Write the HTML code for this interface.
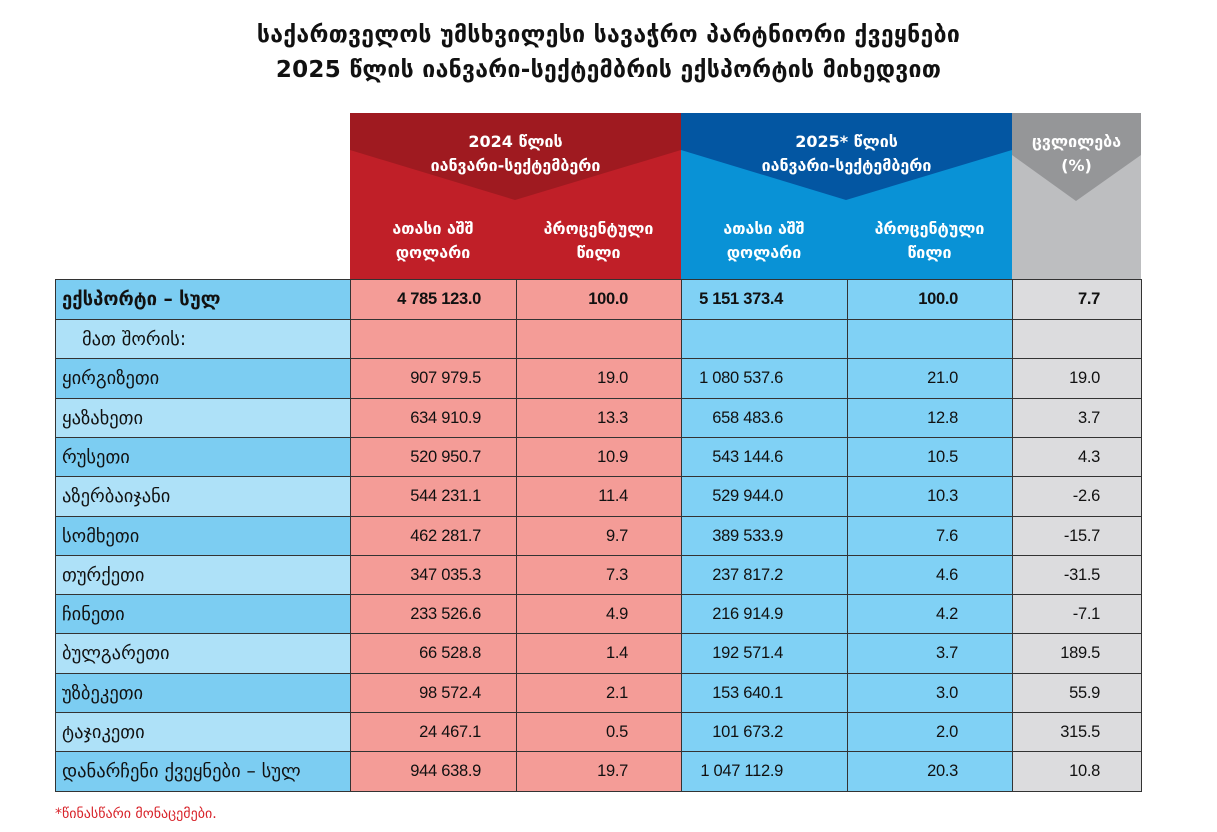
<!DOCTYPE html>
<html><head><meta charset="utf-8"><style>
body{margin:0;width:1217px;height:832px;background:#fff;position:relative;font-family:"Liberation Sans","DejaVu Sans",sans-serif;overflow:hidden}
.t{position:absolute;left:0;width:1217px;text-align:center;font-weight:bold;font-size:23px;color:#111;font-family:"DejaVu Sans",sans-serif;letter-spacing:0.3px}
.c{position:absolute;box-sizing:border-box;display:flex;align-items:center;font-size:16.5px;color:#111;letter-spacing:-0.3px}
.f{font-family:"DejaVu Sans",sans-serif;font-size:18.5px;letter-spacing:0}
.h{position:absolute;color:#fff;font-weight:bold;font-size:16px;text-align:center;font-family:"DejaVu Sans",sans-serif;line-height:24px}
</style></head><body>
<div class="t" style="top:22px">საქართველოს უმსხვილესი სავაჭრო პარტნიორი ქვეყნები</div>
<div class="t" style="top:57px">2025 წლის იანვარი-სექტემბრის ექსპორტის მიხედვით</div>
<svg style="position:absolute;left:0;top:0" width="1217" height="832">
<rect x="350" y="113" width="331" height="166" fill="#c01f28"/>
<polygon points="350,113 681,113 681,150 515,200 350,150" fill="#9f1a20"/>
<rect x="681" y="113" width="331" height="166" fill="#0992d6"/>
<polygon points="681,113 1012,113 1012,150 846,200 681,150" fill="#0356a2"/>
<rect x="1012" y="113" width="129" height="166" fill="#bdbec0"/>
<polygon points="1012,113 1141,113 1141,155 1076,201 1012,155" fill="#959698"/>
</svg>
<div class="h" style="left:350px;top:130px;width:331px">2024 წლის<br>იანვარი-სექტემბერი</div>
<div class="h" style="left:681px;top:130px;width:331px">2025* წლის<br>იანვარი-სექტემბერი</div>
<div class="h" style="left:1012px;top:130px;width:129px">ცვლილება<br>(%)</div>
<div class="h" style="left:350px;top:217px;width:166px">ათასი აშშ<br>დოლარი</div>
<div class="h" style="left:516px;top:217px;width:165px">პროცენტული<br>წილი</div>
<div class="h" style="left:681px;top:217px;width:166px">ათასი აშშ<br>დოლარი</div>
<div class="h" style="left:847px;top:217px;width:165px">პროცენტული<br>წილი</div>
<div id="rows"></div>
<div style="position:absolute;left:55px;top:806px;font-size:14px;color:#d8232a;font-family:'DejaVu Sans',sans-serif">*წინასწარი მონაცემები.</div>
<script>
var R=[["ექსპორტი – სულ","4 785 123.0","100.0","5 151 373.4","100.0","7.7"],
["მათ შორის:","","","","",""],
["ყირგიზეთი","907 979.5","19.0","1 080 537.6","21.0","19.0"],
["ყაზახეთი","634 910.9","13.3","658 483.6","12.8","3.7"],
["რუსეთი","520 950.7","10.9","543 144.6","10.5","4.3"],
["აზერბაიჯანი","544 231.1","11.4","529 944.0","10.3","-2.6"],
["სომხეთი","462 281.7","9.7","389 533.9","7.6","-15.7"],
["თურქეთი","347 035.3","7.3","237 817.2","4.6","-31.5"],
["ჩინეთი","233 526.6","4.9","216 914.9","4.2","-7.1"],
["ბულგარეთი","66 528.8","1.4","192 571.4","3.7","189.5"],
["უზბეკეთი","98 572.4","2.1","153 640.1","3.0","55.9"],
["ტაჯიკეთი","24 467.1","0.5","101 673.2","2.0","315.5"],
["დანარჩენი ქვეყნები – სულ","944 638.9","19.7","1 047 112.9","20.3","10.8"]];
var X=[55,350,516,681,847,1012,1141],P=[0,35,53,64,54,41];
var h='',y=279;
for(var i=0;i<13;i++){var hh=i<1?40:39.3;
 var bg0=(i%2==0)?'#7ccdf2':'#aee1f8';
 var bgs=[bg0,'#f49c97','#f49c97','#80d1f5','#80d1f5','#dcdcde'];
 for(var j=0;j<6;j++){
  var st='left:'+X[j]+'px;top:'+Math.round(y)+'px;width:'+(X[j+1]-X[j]+1)+'px;height:'+(Math.round(y+hh)-Math.round(y)+1)+'px;background:'+bgs[j]+';border:1.5px solid #333;';
  if(j==0) st+='padding-left:'+(i==1?26:6)+'px;'+(i==0?'font-weight:bold;':'');
  else st+='justify-content:flex-end;padding-right:'+P[j]+'px;'+(i==0?'font-weight:bold;':'');
  h+='<div class="c'+(j==0?' f':'')+'" style="'+st+'">'+R[i][j]+'</div>';
 }
 y+=hh;}
document.getElementById('rows').innerHTML=h;
</script>
</body></html>
